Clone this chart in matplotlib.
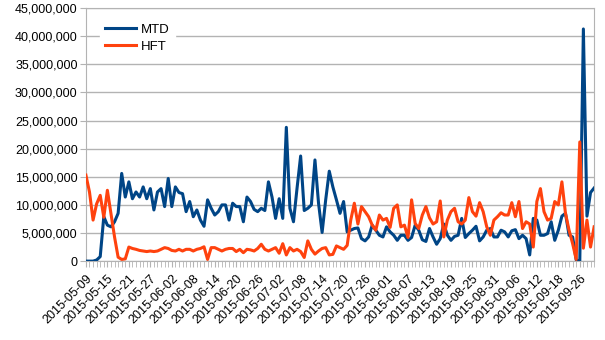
import numpy as np
import matplotlib
matplotlib.use('Agg')
import matplotlib.pyplot as plt
from matplotlib.ticker import FuncFormatter, MultipleLocator

plt.rcParams['font.family'] = ['Liberation Sans', 'DejaVu Sans']

# daily values, millions
mtd = [0.0, 0.0, 0.0, 0.2, 0.8, 7.9, 6.4, 6.1, 7.0, 8.5,
       15.6, 11.4, 14.1, 11.1, 12.3, 11.4, 13.2, 11.1, 12.9, 9.1,
       12.3, 12.9, 9.7, 14.7, 9.7, 13.2, 12.2, 12.0, 8.8, 10.6,
       7.9, 9.1, 7.3, 6.2, 10.9, 9.4, 8.2, 8.8, 10.0, 10.0,
       7.3, 10.3, 9.7, 9.7, 7.0, 11.4, 10.6, 9.2, 8.8, 9.4,
       9.0, 14.1, 11.4, 7.6, 11.1, 7.6, 23.8, 9.4, 7.0, 13.0,
       18.7, 9.0, 9.4, 10.0, 18.0, 10.3, 5.1, 10.9, 16.0, 13.2,
       10.9, 8.5, 10.6, 5.2, 5.5, 5.8, 5.9, 4.0, 3.6, 4.3,
       6.4, 5.5, 4.6, 4.3, 6.1, 5.2, 4.6, 3.7, 4.6, 4.6,
       3.7, 4.2, 6.4, 5.5, 3.8, 3.5, 5.8, 4.3, 3.0, 4.0,
       6.6, 4.6, 3.7, 4.4, 4.6, 7.6, 4.2, 4.9, 5.5, 6.2,
       3.6, 4.3, 5.5, 5.8, 4.3, 4.3, 5.5, 5.2, 4.3, 5.4,
       5.6, 4.0, 4.6, 4.0, 1.1, 7.6, 7.3, 4.6, 4.6, 4.9,
       7.0, 3.7, 5.5, 8.0, 8.5, 4.6, 4.3, 0.2, 0.0, 41.3,
       8.0, 12.2, 13.0]

hft = [15.3, 12.3, 7.3, 10.2, 11.7, 7.8, 12.6, 8.5, 4.3, 0.7,
       0.3, 0.4, 2.5, 2.25, 2.1, 1.9, 1.8, 1.7, 1.8, 1.7,
       1.8, 2.1, 2.4, 2.25, 1.9, 1.8, 2.1, 1.8, 2.1, 2.1,
       1.8, 2.1, 2.25, 2.55, 0.3, 2.4, 2.4, 2.1, 1.8, 2.1,
       2.25, 2.25, 1.7, 2.1, 1.5, 2.1, 2.0, 1.8, 2.25, 3.0,
       2.1, 1.8, 2.1, 2.4, 1.4, 3.1, 1.1, 2.4, 1.8, 2.1,
       1.7, 0.65, 3.6, 2.1, 1.25, 1.8, 2.25, 2.4, 1.1, 1.2,
       2.7, 2.4, 2.1, 2.8, 7.3, 10.3, 6.6, 9.7, 8.8, 7.9,
       6.4, 5.5, 8.2, 7.3, 7.6, 6.0, 9.4, 10.0, 6.1, 6.4,
       4.2, 10.9, 6.7, 5.8, 8.2, 9.7, 7.7, 6.6, 7.0, 10.7,
       4.3, 7.3, 8.8, 9.4, 7.0, 6.6, 7.3, 11.3, 8.8, 8.0,
       10.4, 8.8, 6.1, 4.6, 7.3, 7.9, 8.6, 8.2, 8.2, 10.4,
       7.9, 10.6, 5.8, 7.0, 6.6, 2.5, 10.6, 12.9, 8.8, 7.3,
       7.6, 10.6, 10.0, 14.1, 8.5, 5.5, 3.1, 0.3, 21.2, 2.3,
       7.3, 2.5, 6.1]

tick_labels = ['2015-05-09', '2015-05-15', '2015-05-21', '2015-05-27', '2015-06-02',
               '2015-06-08', '2015-06-14', '2015-06-20', '2015-06-26', '2015-07-02',
               '2015-07-08', '2015-07-14', '2015-07-20', '2015-07-26', '2015-08-01',
               '2015-08-07', '2015-08-13', '2015-08-19', '2015-08-25', '2015-08-31',
               '2015-09-06', '2015-09-12', '2015-09-18', '2015-09-26']

mtd = np.array(mtd) * 1e6
hft = np.array(hft) * 1e6
x = np.arange(len(mtd))

fig = plt.figure(figsize=(6.05, 3.4), dpi=100)
ax = fig.add_axes([0.142, 0.232, 0.840, 0.744])

ax.plot(x, mtd, color='#004586', lw=2.2, label='MTD', zorder=3)
ax.plot(x, hft, color='#ff420e', lw=2.2, label='HFT', zorder=3)

ax.set_xlim(0, len(x) - 1)
ax.set_ylim(0, 45e6)
ax.yaxis.set_major_locator(MultipleLocator(5e6))
ax.yaxis.set_major_formatter(FuncFormatter(lambda v, p: '{:,.0f}'.format(v)))
ax.grid(axis='y', color='#b3b3b3', lw=1.0, zorder=0)

ax.set_xticks(x[::6][:len(tick_labels)])
ax.set_xticklabels(tick_labels, rotation=45, ha='right', rotation_mode='anchor')
ax.set_xticks(x, minor=True)
ax.tick_params(axis='x', which='both', length=4, color='#b3b3b3', labelsize=9, pad=4)
ax.tick_params(axis='y', length=4, color='#b3b3b3', labelsize=9, pad=2)

for s in ax.spines.values():
    s.set_color('#b3b3b3')

leg = ax.legend(loc='upper left', bbox_to_anchor=(0.015, 0.985), frameon=True,
                fancybox=False, edgecolor='white', facecolor='white', framealpha=1,
                fontsize=9.5, handlelength=2.3, handletextpad=0.4, labelspacing=0.35,
                borderpad=0.4)

fig.savefig('out.png', dpi=100)
